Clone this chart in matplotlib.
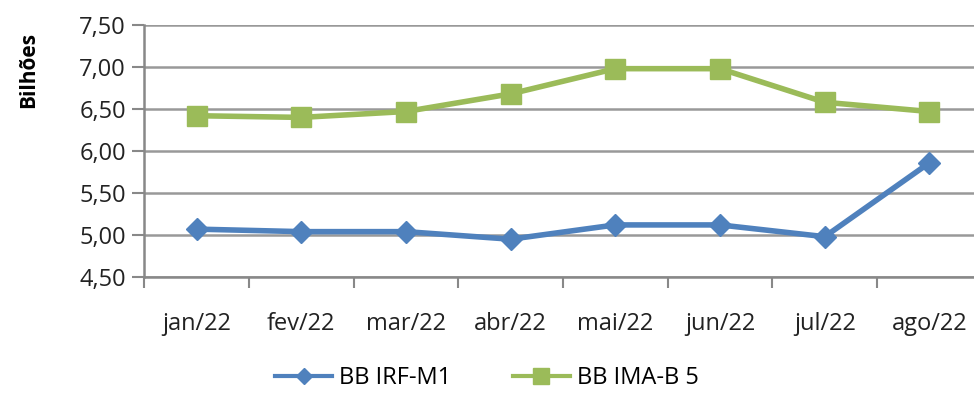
import matplotlib.pyplot as plt

meses = ["jan/22", "fev/22", "mar/22", "abr/22", "mai/22", "jun/22", "jul/22", "ago/22"]
irf_m1 = [5.07, 5.04, 5.04, 4.95, 5.12, 5.12, 4.98, 5.86]
ima_b5 = [6.42, 6.40, 6.47, 6.68, 6.98, 6.98, 6.58, 6.47]
yticks = [4.5, 5.0, 5.5, 6.0, 6.5, 7.0, 7.5]

plt.rcParams['font.family'] = ['Open Sans', 'DejaVu Sans']

fig = plt.figure(figsize=(9.74, 4.07), dpi=100)
ax = fig.add_axes([0.148, 0.3194, 0.86, 0.6192])

x = list(range(len(meses)))
ax.plot(x, irf_m1, color='#4F81BD', lw=4, marker='D', ms=11, label="BB IRF-M1")
ax.plot(x, ima_b5, color='#9BBB59', lw=4, marker='s', ms=15, label="BB IMA-B 5")

ax.set_ylim(4.5, 7.5)
ax.set_xlim(-0.5, 7.5)
ax.set_yticks(yticks)
ax.set_yticklabels([f"{v:.2f}".replace('.', ',') for v in yticks], fontsize=17, color='#222222')
ax.set_xticks(x)
ax.set_xticklabels(meses, fontsize=17, color='#222222')
ax.set_xticks([i - 0.5 for i in range(len(meses) + 1)], minor=True)
ax.tick_params(axis='x', which='major', length=0, pad=25)
ax.tick_params(axis='x', which='minor', length=8, color='#888888', width=1.5)
ax.tick_params(axis='y', length=9, color='#888888', width=1.5, pad=4)
ax.grid(axis='y', color='#999999', lw=1.8)
ax.set_axisbelow(True)
for s in ['top', 'right']:
    ax.spines[s].set_visible(False)
for s in ['left', 'bottom']:
    ax.spines[s].set_color('#888888')
    ax.spines[s].set_linewidth(1.8)

ax.set_ylabel("Bilhões", fontsize=15, fontweight='bold')
ax.yaxis.set_label_coords(-0.125, 0.82)

leg = fig.legend(loc='lower center', bbox_to_anchor=(0.5, -0.01), ncol=2, frameon=False,
                 fontsize=17, handlelength=2.4, columnspacing=2.6, handletextpad=0.3,
                 markerscale=0.75)
for line in leg.get_lines():
    line.set_linewidth(3)

plt.savefig("out.png")
plt.close()
